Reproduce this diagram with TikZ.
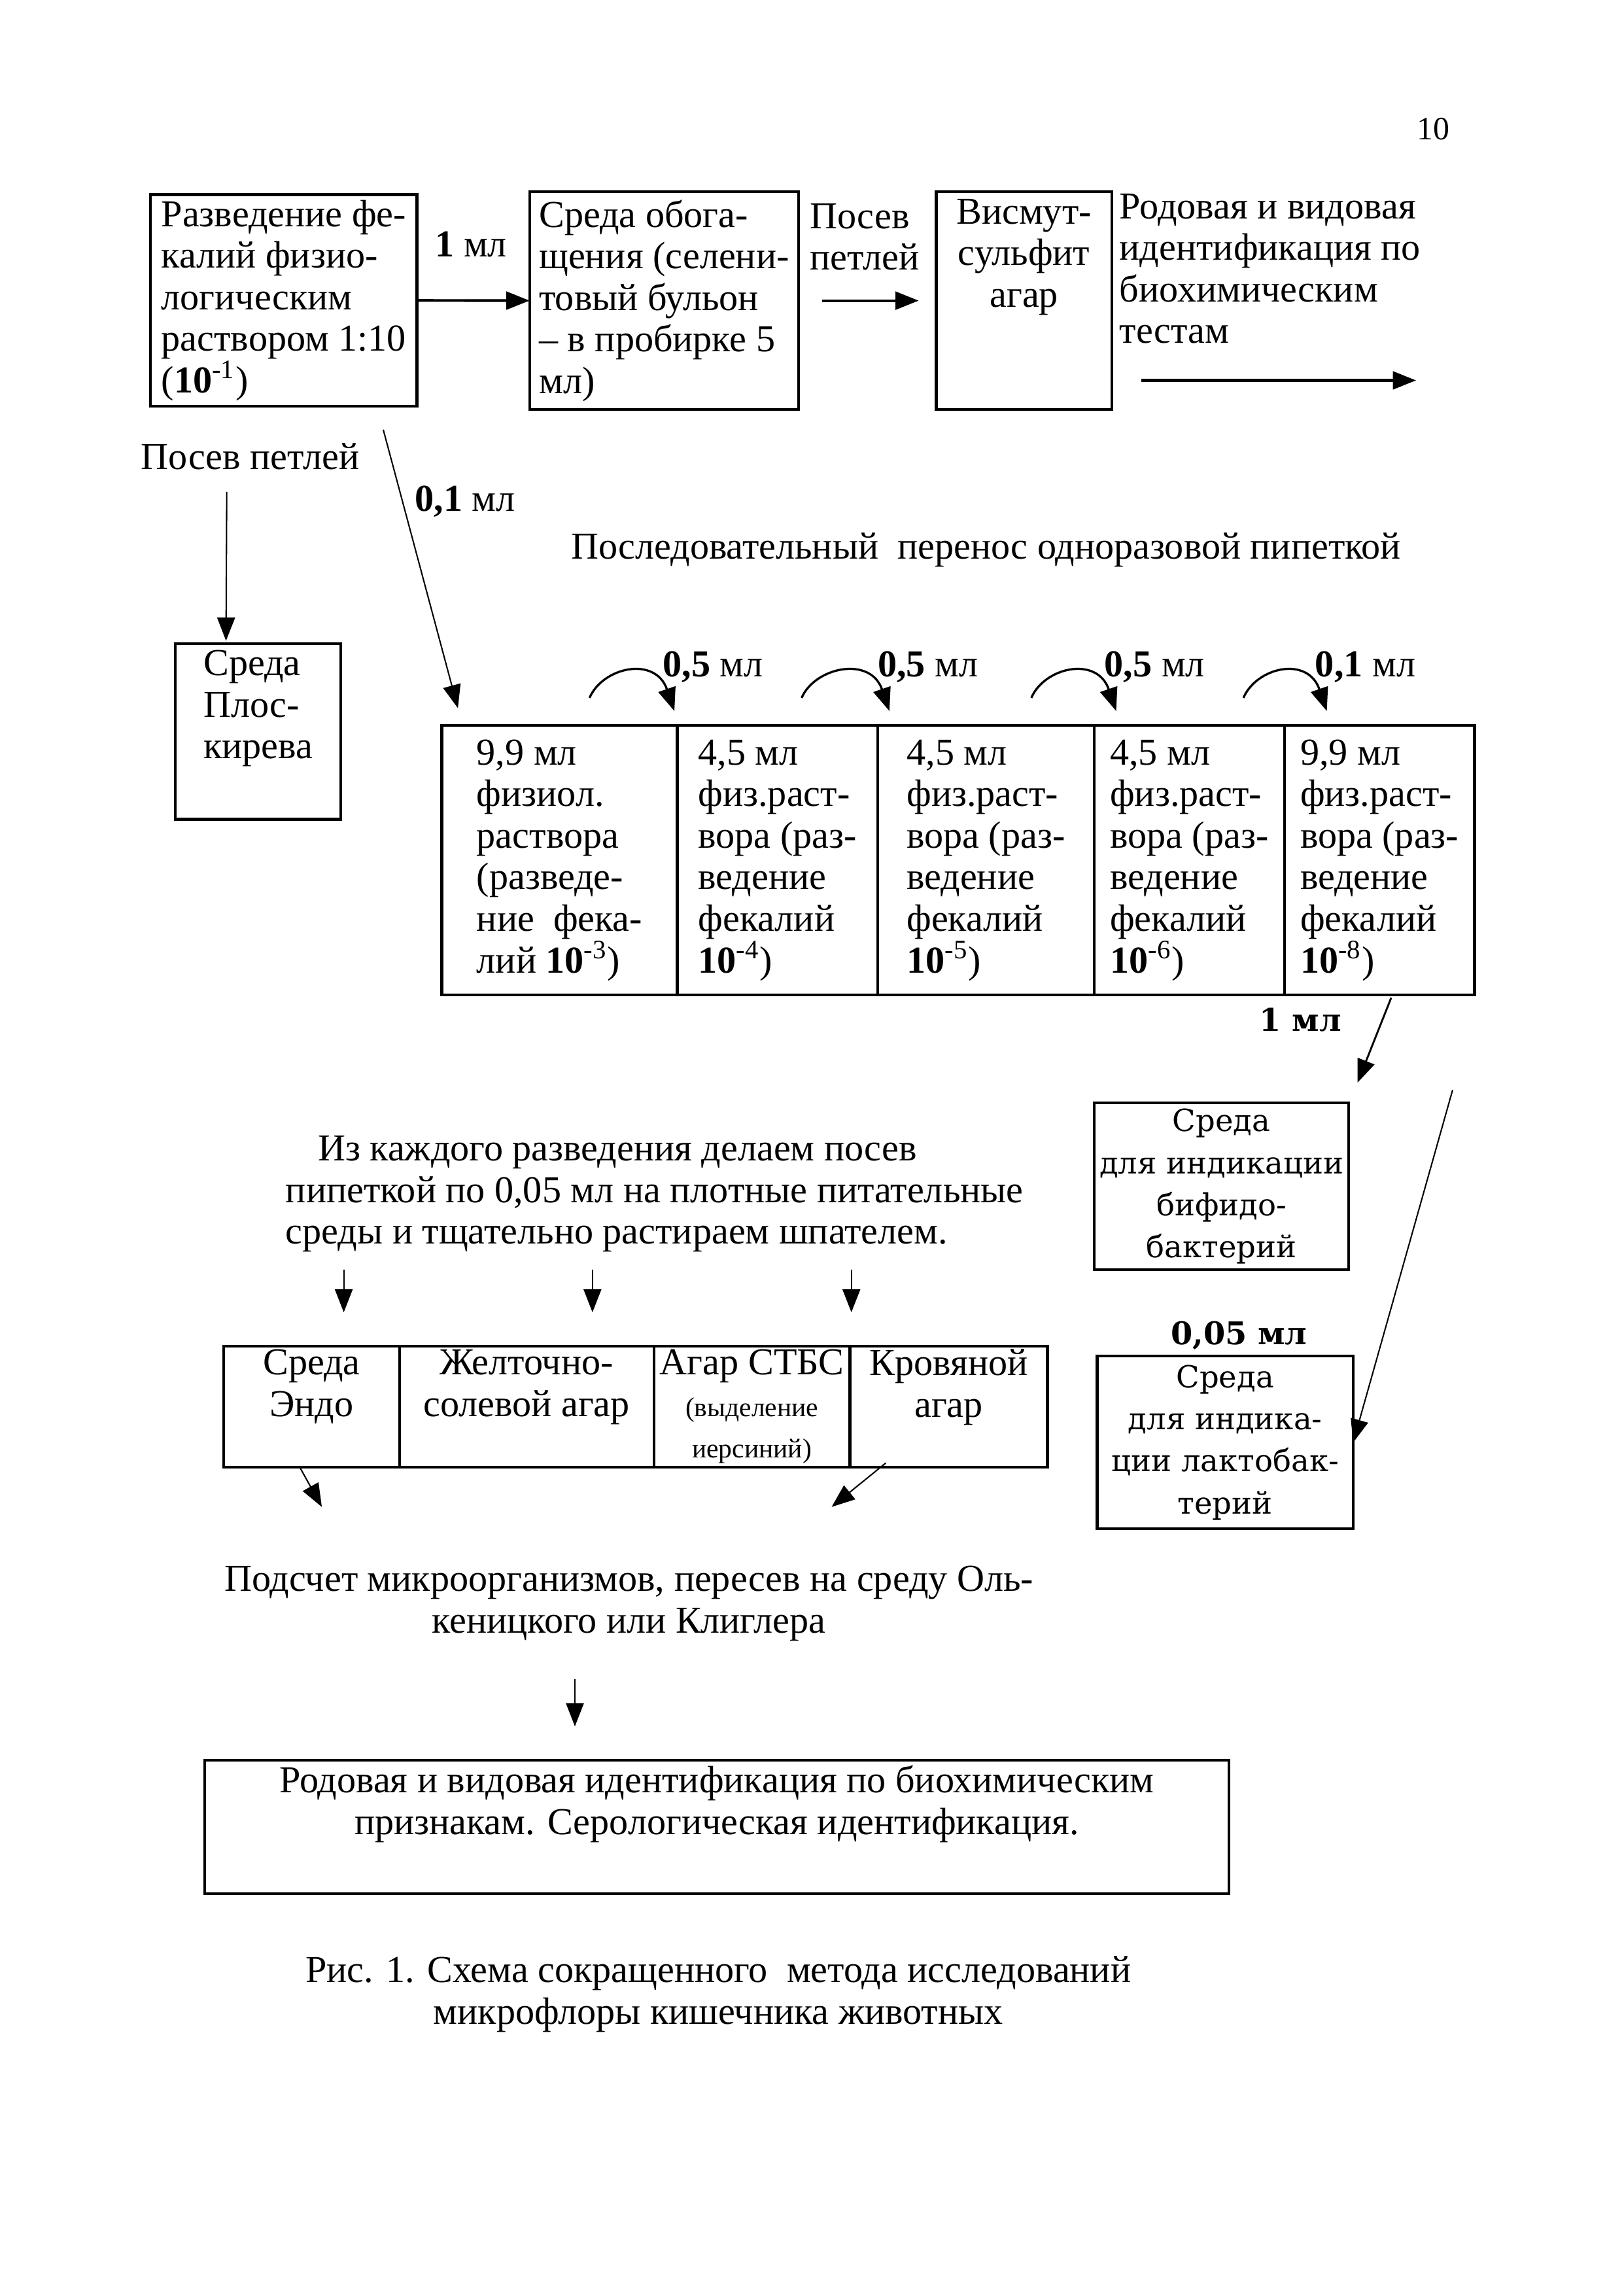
\documentclass[tikz,border=0pt]{standalone}
\usepackage{fontspec}
\setmainfont{Liberation Serif}
\newfontfamily\widefont{DejaVu Serif}
\usetikzlibrary{arrows.meta,calc}
\newlength\pu
\setlength\pu{0.01892cm}
\newcommand\bodysize{\fontsize{14}{15.3}\selectfont}
\newcommand\smallsize{\fontsize{10}{12}\selectfont}

\begin{document}
\begin{tikzpicture}[x=0.01892cm,y=-0.01892cm,>={Triangle[length=3mm,width=2.3mm]},
  every node/.style={font=\bodysize,inner sep=2pt},
  box/.style={draw,line width=1pt,outer sep=0pt,anchor=north west,align=left},
  cell/.style={box,inner xsep=1pt,minimum height=184\pu},
  medium/.style={box,inner xsep=1pt,inner ysep=0pt,align=center,minimum height=83\pu},
  wide/.style={box,inner xsep=1pt,align=center,font=\widefont\fontsize{11.2}{15.5}\selectfont},
  widelabel/.style={font=\widefont\bfseries\fontsize{11.5}{14}\selectfont},
  bold arrow/.style={->,line width=1pt},
  thin arrow/.style={->,line width=0.5pt},
  curve arrow/.style={->,line width=0.8pt}]
  \useasboundingbox (0,0) rectangle (1110,1568);
  \node[font=\fontsize{12}{14}\selectfont] (page) at (980,88) {10};

  % top row
  \node[box,minimum width=182\pu,minimum height=144\pu] (dil) at (103,133)
    {Разведение фе-\\калий физио-\\логическим\\раствором 1:10\\(\textbf{10}\textsuperscript{-1})};
  \node[box,minimum width=184\pu,minimum height=149\pu] (enr) at (362,131)
    {Среда обога-\\щения (селени-\\товый бульон\\– в пробирке 5\\мл)};
  \node[box,align=center,minimum width=120\pu,minimum height=149\pu] (bism) at (640,131)
    {Висмут-\\сульфит\\агар\\\strut\\\strut};
  \node[anchor=north west,align=left,inner sep=0pt] (idtext) at (765,132)
    {Родовая и видовая\\идентификация по\\биохимическим\\тестам};
  \node (v1) at (322,167) {\textbf{1} мл};
  \node[align=left] (loop1) at (591,162) {Посев\\петлей};
  \draw[bold arrow] (dil.east) -- (enr.west);
  \draw[bold arrow] ($(enr.east)+(16,0)$) -- ($(bism.west)+(-12,0)$);
  \coordinate (a1) at (780,260);
  \draw[bold arrow] (a1) -- ++(188,0);

  % left column
  \node (loop2) at (171,312) {Посев петлей};
  \node[box,minimum width=113\pu,minimum height=120\pu] (pl) at (120,440)
    {Среда\\Плос-\\кирева\\\strut};
  \draw[thin arrow] ($(loop2.south)+(-16,11)$) -- ($(pl.north)+(-22,-2)$);

  % dilution tubes
  \node[cell,minimum width=161\pu] (t1) at (302,496)
    {9,9 мл\\физиол.\\раствора\\(разведе-\\ние\ \ фека-\\лий \textbf{10}\textsuperscript{-3})};
  \node[cell,minimum width=137\pu] (t2) at (t1.north east)
    {4,5 мл\\физ.раст-\\вора (раз-\\ведение\\фекалий\\\textbf{10}\textsuperscript{-4})};
  \node[cell,minimum width=148\pu] (t3) at (t2.north east)
    {4,5 мл\\физ.раст-\\вора (раз-\\ведение\\фекалий\\\textbf{10}\textsuperscript{-5})};
  \node[cell,minimum width=130\pu] (t4) at (t3.north east)
    {4,5 мл\\физ.раст-\\вора (раз-\\ведение\\фекалий\\\textbf{10}\textsuperscript{-6})};
  \node[cell,minimum width=130\pu] (t5) at (t4.north east)
    {9,9 мл\\физ.раст-\\вора (раз-\\ведение\\фекалий\\\textbf{10}\textsuperscript{-8})};
  \draw[thin arrow] ($(dil.south east)+(-23,16)$) -- ($(t1.north west)+(11,-12)$);
  \node (v2) at (318,343) {\textbf{0,1} мл};
  \node (transfer) at (674,376) {Последовательный\ \ перенос одноразовой пипеткой};
  \foreach \xa/\xb/\vol [count=\i] in {403/461/{0,5},548/608/{0,5},705/763/{0,5},850/907/{0,1}} {
    \coordinate (p\i) at (\xa,477);
    \coordinate (q\i) at (\xb,486);
    \draw[curve arrow] (p\i) .. controls +(9,-21) and +(-13,-38) .. (q\i);
    \node[anchor=west] (s\i) at ($(q\i)+(-12,-30)$) {\textbf{\vol} мл};
  }

  % right column
  \node[widelabel] (v3) at (889,697) {1 мл};
  \node[wide,minimum width=174\pu,minimum height=114\pu] (bif) at (748,754)
    {Среда\\для индикации\\бифидо-\\бактерий};
  \draw[thin arrow,line width=0.7pt] ($(t5.south)+(8,2)$) -- ($(bif.north east)+(6,-14)$);
  \node[widelabel] (v4) at (847,913) {0,05 мл};
  \node[wide,minimum width=175\pu,minimum height=118\pu] (lac) at (750,927)
    {Среда\\для индика-\\ции лактобак-\\терий};
  \coordinate (lstart) at (993,745);
  \draw[thin arrow] (lstart) -- (lac.east);

  % plating
  \node[anchor=north west,align=left,inner sep=0pt] (note) at (195,776)
    {\hspace*{22\pu}Из каждого разведения делаем посев\\пипеткой по 0,05 мл на плотные питательные\\среды и тщательно растираем шпателем.};
  \foreach \x [count=\i] in {235,405,582} {
    \coordinate (d\i) at (\x,868);
    \draw[thin arrow] (d\i) -- ++(0,29);
  }
  \node[medium,minimum width=120\pu] (endo) at (153,920) {Среда\\Эндо\\{\smallsize\vphantom{(}}};
  \node[medium,minimum width=174\pu] (yolk) at (endo.north east) {Желточно-\\солевой агар\\{\smallsize\vphantom{(}}};
  \node[medium,minimum width=134\pu] (stbs) at (yolk.north east)
    {Агар СТБС\\{\smallsize(выделение}\\{\smallsize иерсиний)}};
  \node[medium,minimum width=135\pu] (krov) at (stbs.north east) {Кровяной\\агар\\{\smallsize\vphantom{(}}};

  % counting and identification
  \node[align=center] (count) at (430,1096)
    {Подсчет микроорганизмов, пересев на среду Оль-\\кеницкого или Клиглера};
  \node[box,align=center,minimum width=700\pu,minimum height=80\pu] (final) at (140,1203)
    {Родовая и видовая идентификация по биохимическим\\признакам. Серологическая идентификация.\\\strut};
  \draw[thin arrow] ($(endo.south)+(-8,0)$) -- ($(endo.south)+(7,27)$);
  \draw[thin arrow] ($(krov.south)+(-43,-3)$) -- ($(krov.south)+(-80,27)$);
  \draw[thin arrow] ($(count.south)+(-37,22)$) -- ($(final.north)+(-97,-23)$);

  \node[align=center] (caption) at (491,1363)
    {Рис. 1. Схема сокращенного\ \ метода исследований\\микрофлоры кишечника животных};
\end{tikzpicture}
\end{document}
